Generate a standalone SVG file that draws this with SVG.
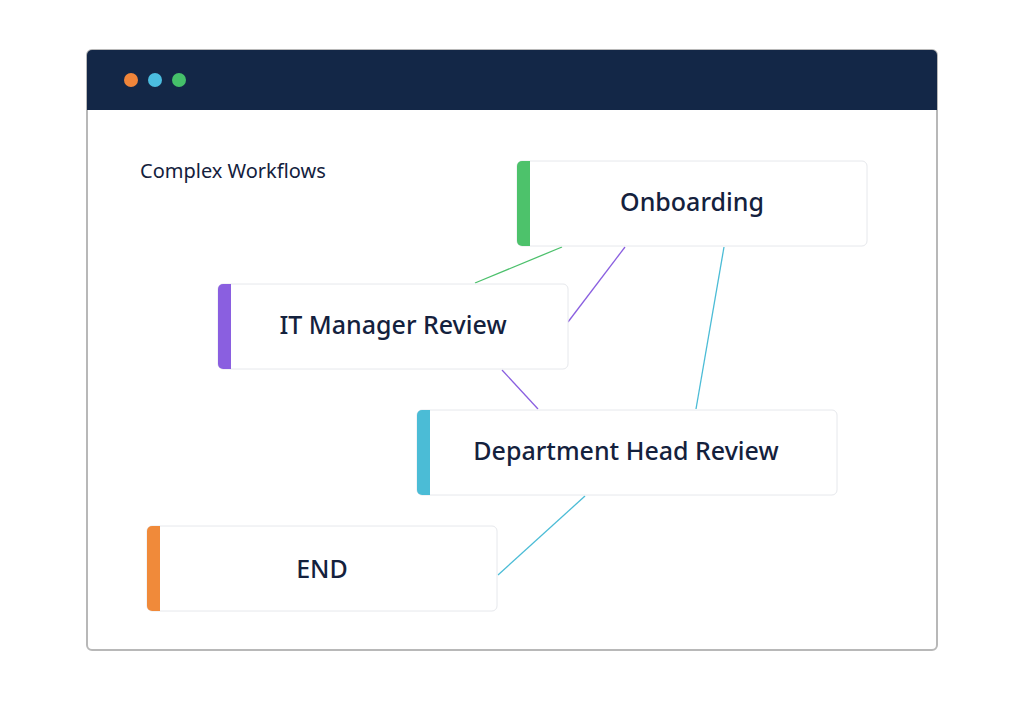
<svg xmlns="http://www.w3.org/2000/svg" width="1024" height="701" viewBox="0 0 1024 701">
<style>
.card{fill:#fff;stroke:#e6e8ec;stroke-width:1}
.lbl{font-family:"Noto Sans","Inter",sans-serif;font-size:25px;fill:#14213d;text-anchor:middle;font-weight:500}
.ln{stroke-width:1.3;fill:none}
</style>
<rect width="1024" height="701" fill="#fff"/>
<g id="window">
<rect x="87" y="50" width="850" height="600" rx="5" fill="#fff" stroke="#b8b8b8" stroke-width="2"/>
<path d="M87 110 V55 a5 5 0 0 1 5 -5 H932 a5 5 0 0 1 5 5 V110 Z" fill="#132747"/>
<circle cx="131" cy="80" r="7" fill="#f0853a"/>
<circle cx="155" cy="80" r="7" fill="#4bbde0"/>
<circle cx="179" cy="80" r="7" fill="#45c06a"/>
<text x="140" y="178" font-family="Noto Sans, Inter, sans-serif" font-size="20" fill="#14213d">Complex Workflows</text>
</g>
<g id="connectors">
<line class="ln" x1="475" y1="283" x2="562" y2="247" stroke="#4cc06c"/>
<line class="ln" x1="568" y1="322" x2="625" y2="247" stroke="#8a5fe0"/>
<line class="ln" x1="502" y1="370" x2="538" y2="409" stroke="#8a5fe0"/>
<line class="ln" x1="724" y1="247" x2="696" y2="409" stroke="#4bbcd6"/>
<line class="ln" x1="585" y1="496" x2="498" y2="575" stroke="#4bbcd6"/>
</g>
<g id="onboarding">
<rect class="card" x="517" y="161" width="350" height="85" rx="5"/>
<path d="M522 161 H530 V246 H522 a5 5 0 0 1 -5 -5 V166 a5 5 0 0 1 5 -5Z" fill="#4dc26b"/>
<text class="lbl" x="692" y="211">Onboarding</text>
</g>
<g id="it-manager">
<rect class="card" x="218" y="284" width="350" height="85" rx="5"/>
<path d="M223 284 H231 V369 H223 a5 5 0 0 1 -5 -5 V289 a5 5 0 0 1 5 -5Z" fill="#8a5fe0"/>
<text class="lbl" x="393" y="334">IT Manager Review</text>
</g>
<g id="dept-head">
<rect class="card" x="417" y="410" width="420" height="85" rx="5"/>
<path d="M422 410 H430 V495 H422 a5 5 0 0 1 -5 -5 V415 a5 5 0 0 1 5 -5Z" fill="#4bbcd6"/>
<text class="lbl" x="626" y="460">Department Head Review</text>
</g>
<g id="end">
<rect class="card" x="147" y="526" width="350" height="85" rx="5"/>
<path d="M152 526 H160 V611 H152 a5 5 0 0 1 -5 -5 V531 a5 5 0 0 1 5 -5Z" fill="#f08a3a"/>
<text class="lbl" x="322" y="578">END</text>
</g>
</svg>
